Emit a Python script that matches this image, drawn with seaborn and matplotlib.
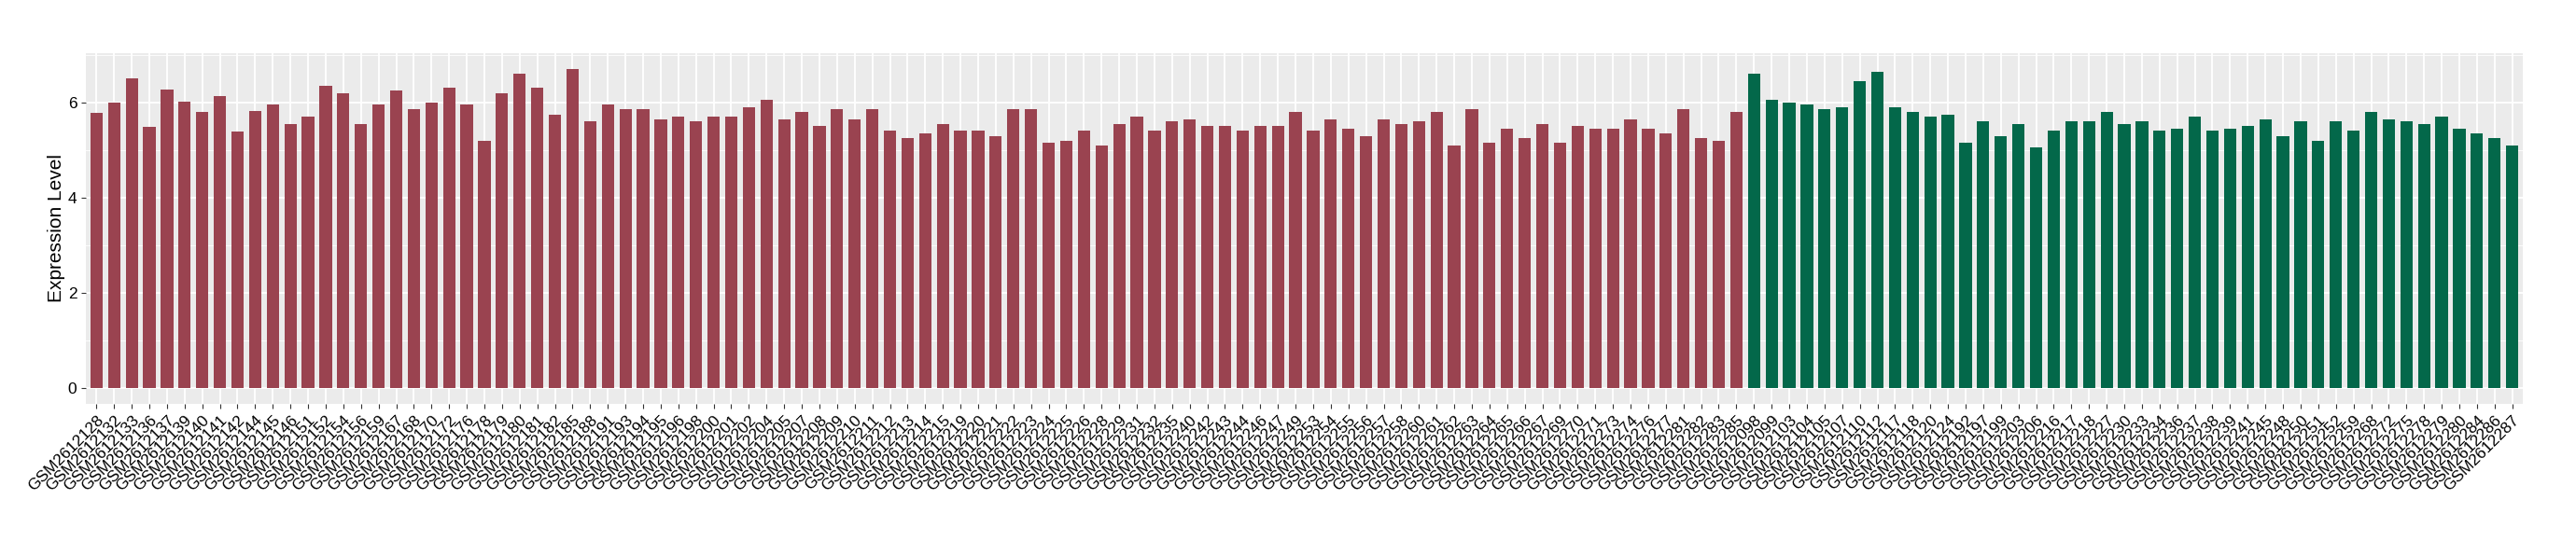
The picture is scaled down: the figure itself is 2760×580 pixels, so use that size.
import numpy as np
import pandas as pd
import matplotlib
matplotlib.use("Agg")
import matplotlib.pyplot as plt
import seaborn as sns

# ── Data ──────────────────────────────────────────────────────────────────────
red_ids = [
    128, 132, 133, 136, 137, 139, 140, 141, 142, 144, 145, 146,
    151, 152, 154, 156, 159, 167, 168, 170, 172, 176, 178, 179,
    180, 181, 182, 185, 188, 191, 193, 194, 195, 196, 198,
    200, 201, 202, 204, 205, 207, 208, 209, 210, 211, 212, 213,
    214, 215, 219, 220, 221, 222, 223, 224, 225, 226, 228, 229,
    231, 232, 235, 240, 242, 243, 244, 246, 247, 249, 253,
    254, 255, 256, 257, 258, 260, 261, 262, 263, 264, 265, 266,
    267, 269, 270, 271, 273, 274, 276, 277, 281, 282, 283, 285,
]
red_values = [
    5.78, 6.00, 6.51, 5.49, 6.27, 6.02, 5.80, 6.14, 5.39, 5.82, 5.96, 5.55,
    5.70, 6.35, 6.20, 5.55, 5.95, 6.25, 5.85, 6.00, 6.30, 5.95, 5.20, 6.20,
    6.60, 6.30, 5.75, 6.70, 5.60, 5.95, 5.85, 5.85, 5.65, 5.70, 5.60,
    5.70, 5.70, 5.90, 6.05, 5.65, 5.80, 5.50, 5.85, 5.65, 5.85, 5.40, 5.25,
    5.35, 5.55, 5.40, 5.40, 5.30, 5.85, 5.85, 5.15, 5.20, 5.40, 5.10, 5.55,
    5.70, 5.40, 5.60, 5.65, 5.50, 5.50, 5.40, 5.50, 5.50, 5.80, 5.40,
    5.65, 5.45, 5.30, 5.65, 5.55, 5.60, 5.80, 5.10, 5.85, 5.15, 5.45, 5.25,
    5.55, 5.15, 5.50, 5.45, 5.45, 5.65, 5.45, 5.35, 5.85, 5.25, 5.20, 5.80,
]
green_ids = [
    "098", "099", 103, 104, 105, 107, 110, 112, 117, 118, 120,
    124, 192, 197, 199, 203, 206, 216, 217, 218, 227, 230, 233,
    234, 236, 237, 238, 239, 241, 245, 248, 250, 251, 252, 259, 268,
    272, 275, 278, 279, 280, 284, 286, 287,
]
green_values = [
    6.60, 6.05, 6.00, 5.95, 5.85, 5.90, 6.45, 6.65, 5.90, 5.80, 5.70,
    5.75, 5.15, 5.60, 5.30, 5.55, 5.05, 5.40, 5.60, 5.60, 5.80, 5.55, 5.60,
    5.40, 5.45, 5.70, 5.40, 5.45, 5.50, 5.65, 5.30, 5.60, 5.20, 5.60, 5.40, 5.80,
    5.65, 5.60, 5.55, 5.70, 5.45, 5.35, 5.25, 5.10,
]

RED = "#9A4350"
GREEN = "#03684A"

red_labels = [f"GSM2612{i}" for i in red_ids]
green_labels = [f"GSM2612{i}" for i in green_ids]

df = pd.DataFrame({
    "sample": red_labels + green_labels,
    "value": red_values + green_values,
    "group": ["A"] * len(red_labels) + ["B"] * len(green_labels),
})

# ── Plot ──────────────────────────────────────────────────────────────────────
W, H = 2760, 580
fig, ax = plt.subplots(figsize=(W / 100, H / 100), dpi=100)
fig.subplots_adjust(left=92 / W, right=2703 / W, top=1 - 57 / H, bottom=1 - 433 / H)

ax.set_facecolor("#EBEBEB")
sns.barplot(
    data=df, x="sample", y="value", hue="group",
    order=df["sample"], palette={"A": RED, "B": GREEN},
    width=0.7, dodge=False, legend=False, saturation=1, ax=ax, zorder=3,
)

n = len(df)
ax.set_xlim(-0.6, n - 1 + 0.6)
ax.set_ylim(-0.335, 7.035)
ax.set_yticks([0, 2, 4, 6])
ax.set_yticks([1, 3, 5, 7], minor=True)
ax.grid(which="major", color="white", linewidth=1.3, zorder=0)
ax.grid(which="minor", axis="y", color="white", linewidth=0.6, zorder=0)
ax.set_axisbelow(True)
for s in ax.spines.values():
    s.set_visible(False)

font = "Liberation Sans"
ax.tick_params(axis="both", which="major", length=3.5, width=0.8, color="#333333",
               labelsize=12.5, labelcolor="black")
ax.tick_params(axis="y", which="minor", length=0)
plt.setp(ax.get_xticklabels(), rotation=45, ha="right", va="top",
         rotation_mode="anchor", family=font)
plt.setp(ax.get_yticklabels(), family=font)
ax.set_xlabel("")
ax.set_ylabel("Expression Level", fontsize=15, family=font, labelpad=2)

fig.savefig("out.png", dpi=100, facecolor="white")
